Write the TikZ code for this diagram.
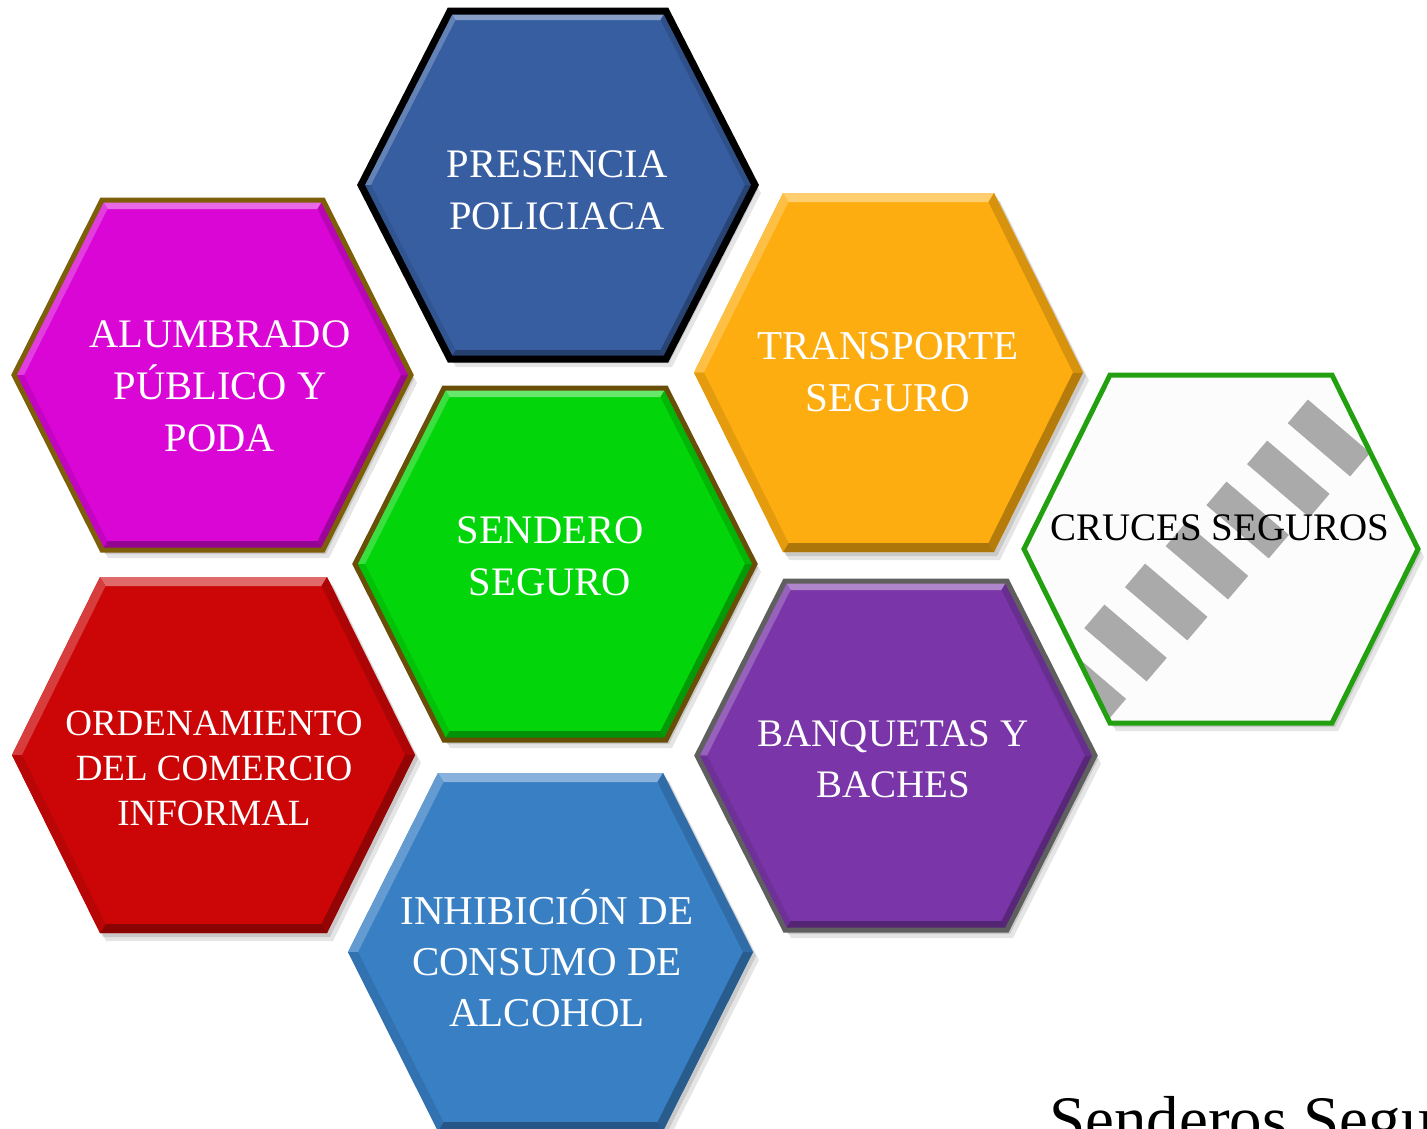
\documentclass[tikz,border=0pt]{standalone}
\usepackage{fontspec}
\setmainfont{Liberation Serif}
\usetikzlibrary{calc}

\definecolor{cBlueTop}{RGB}{55,94,161}
\definecolor{cMagenta}{RGB}{217,6,214}
\definecolor{cGreen}{RGB}{2,214,10}
\definecolor{cOrange}{RGB}{253,173,15}
\definecolor{cRed}{RGB}{204,6,6}
\definecolor{cBlueBot}{RGB}{56,127,196}
\definecolor{cPurple}{RGB}{122,54,168}
\definecolor{cWhiteHex}{RGB}{252,252,252}
\definecolor{cOlive}{RGB}{125,95,8}
\definecolor{cBrown}{RGB}{105,78,8}
\definecolor{cGrayLine}{RGB}{95,95,95}
\definecolor{cGreenLine}{RGB}{34,160,16}
\definecolor{cStripe}{RGB}{170,170,170}

% id, L, R, T, B, inset
\newcommand\hexdef[6]{%
  \coordinate (#1-w)  at (#2,{(#4+#5)/2});
  \coordinate (#1-nw) at ({#2+#6},#4);
  \coordinate (#1-ne) at ({#3-#6},#4);
  \coordinate (#1-e)  at (#3,{(#4+#5)/2});
  \coordinate (#1-se) at ({#3-#6},#5);
  \coordinate (#1-sw) at ({#2+#6},#5);
  \coordinate (#1-c)  at ({(#2+#3)/2},{(#4+#5)/2});
  \coordinate (#1-wi)  at ($(#1-w)+(10,0)$);
  \coordinate (#1-nwi) at ($(#1-nw)+(5.5,9)$);
  \coordinate (#1-nei) at ($(#1-ne)+(-5.5,9)$);
  \coordinate (#1-ei)  at ($(#1-e)+(-10,0)$);
  \coordinate (#1-sei) at ($(#1-se)+(-5.5,-9)$);
  \coordinate (#1-swi) at ($(#1-sw)+(5.5,-9)$);
}
\newcommand\hexshadow[1]{%
  \fill[black,opacity=0.12] ($(#1-w)+(3,4)$) -- ($(#1-nw)+(3,4)$) -- ($(#1-ne)+(3,4)$) -- ($(#1-e)+(3,4)$) -- ($(#1-se)+(3,4)$) -- ($(#1-sw)+(3,4)$) -- cycle;
  \fill[black,opacity=0.10] ($(#1-w)+(6,8)$) -- ($(#1-nw)+(6,8)$) -- ($(#1-ne)+(6,8)$) -- ($(#1-e)+(6,8)$) -- ($(#1-se)+(6,8)$) -- ($(#1-sw)+(6,8)$) -- cycle;
}
% id, fill, outline colour, outline width
\newcommand\hexdraw[4]{%
  \fill[#2] (#1-w) -- (#1-nw) -- (#1-ne) -- (#1-e) -- (#1-se) -- (#1-sw) -- cycle;
  \fill[#2!60!white] (#1-nw) -- (#1-ne) -- (#1-nei) -- (#1-nwi) -- cycle;
  \fill[#2!78!white] (#1-w) -- (#1-nw) -- (#1-nwi) -- (#1-wi) -- cycle;
  \fill[#2!85!black] (#1-ne) -- (#1-e) -- (#1-ei) -- (#1-nei) -- cycle;
  \fill[#2!72!black] (#1-e) -- (#1-se) -- (#1-sei) -- (#1-ei) -- cycle;
  \fill[#2!68!black] (#1-se) -- (#1-sw) -- (#1-swi) -- (#1-sei) -- cycle;
  \fill[#2!90!black] (#1-sw) -- (#1-w) -- (#1-wi) -- (#1-swi) -- cycle;
  \path[draw=#3, line width=#4, line join=miter] (#1-w) -- (#1-nw) -- (#1-ne) -- (#1-e) -- (#1-se) -- (#1-sw) -- cycle;
}

\tikzset{
  lbl/.style={text=white, align=center, inner sep=0pt, font=\fontsize{40.5}{52}\selectfont},
  stripe/.style={fill=cStripe},
}

\begin{document}
\begin{tikzpicture}[x=1pt,y=-1pt]
\useasboundingbox (0,0) rectangle (1427,1128);
\clip (0,0) rectangle (1427,1128);
\fill[white] (0,0) rectangle (1427,1128);

\hexdef{pres}{361}{755}{11}{359}{89}
\hexdef{alum}{14}{411}{200}{550}{88}
\hexdef{send}{355}{755}{388}{740}{89}
\hexdef{trans}{694}{1083}{193}{552}{89}
\hexdef{orden}{12}{415}{577}{933}{88}
\hexdef{inhib}{348}{753}{773}{1131}{90}
\hexdef{banq}{697}{1095}{581}{930}{88}
\hexdef{cruc}{1024}{1418}{375}{723}{86}

\foreach \h in {pres,alum,send,trans,orden,inhib,banq,cruc} {\hexshadow{\h}}

\hexdraw{pres}{cBlueTop}{black}{7}
\hexdraw{alum}{cMagenta}{cOlive}{5}
\hexdraw{send}{cGreen}{cBrown}{5}
\hexdraw{trans}{cOrange}{none}{0}
\hexdraw{orden}{cRed}{none}{0}
\hexdraw{inhib}{cBlueBot}{none}{0}
\hexdraw{banq}{cPurple}{cGrayLine}{5}

% Cruces seguros: white hexagon with zebra crossing
\fill[cWhiteHex] (cruc-w) -- (cruc-nw) -- (cruc-ne) -- (cruc-e) -- (cruc-se) -- (cruc-sw) -- cycle;
\begin{scope}
  \clip (cruc-w) -- (cruc-nw) -- (cruc-ne) -- (cruc-e) -- (cruc-se) -- (cruc-sw) -- cycle;
  \foreach \k in {0,...,6} {
    \fill[stripe, shift={({1329-40.7*\k},{438+41*\k})}, rotate=-40.5] (-41,-15.5) rectangle (41,15.5);
  }
\end{scope}
\draw[cGreenLine, line width=5, line join=miter] (cruc-w) -- (cruc-nw) -- (cruc-ne) -- (cruc-e) -- (cruc-se) -- (cruc-sw) -- cycle;

% labels
\node[lbl] (t-pres) at (557,190) {PRESENCIA\\POLICIACA};
\node[lbl] (t-alum) at (220,386) {ALUMBRADO\\PÚBLICO Y\\PODA};
\node[lbl] (t-send) at (550,556) {SENDERO\\SEGURO};
\node[lbl, font=\fontsize{41}{52}\selectfont] (t-trans) at (888,372) {TRANSPORTE\\SEGURO};
\node[lbl, text=black, font=\fontsize{39}{50}\selectfont] (t-cruc) at (1220,528) {CRUCES SEGUROS};
\node[lbl, font=\fontsize{37}{45}\selectfont] (t-orden) at (214,768) {ORDENAMIENTO\\DEL COMERCIO\\INFORMAL};
\node[lbl, font=\fontsize{39}{51}\selectfont] (t-banq) at (893,759) {BANQUETAS Y\\BACHES};
\node[lbl, font=\fontsize{41}{51}\selectfont] (t-inhib) at (547,958) {INHIBICIÓN DE\\CONSUMO DE\\ALCOHOL};

\node[anchor=base west, inner sep=0pt, font=\fontsize{65}{70}\selectfont] (title) at (1049,1141) {Senderos Seguros};
\end{tikzpicture}
\end{document}
